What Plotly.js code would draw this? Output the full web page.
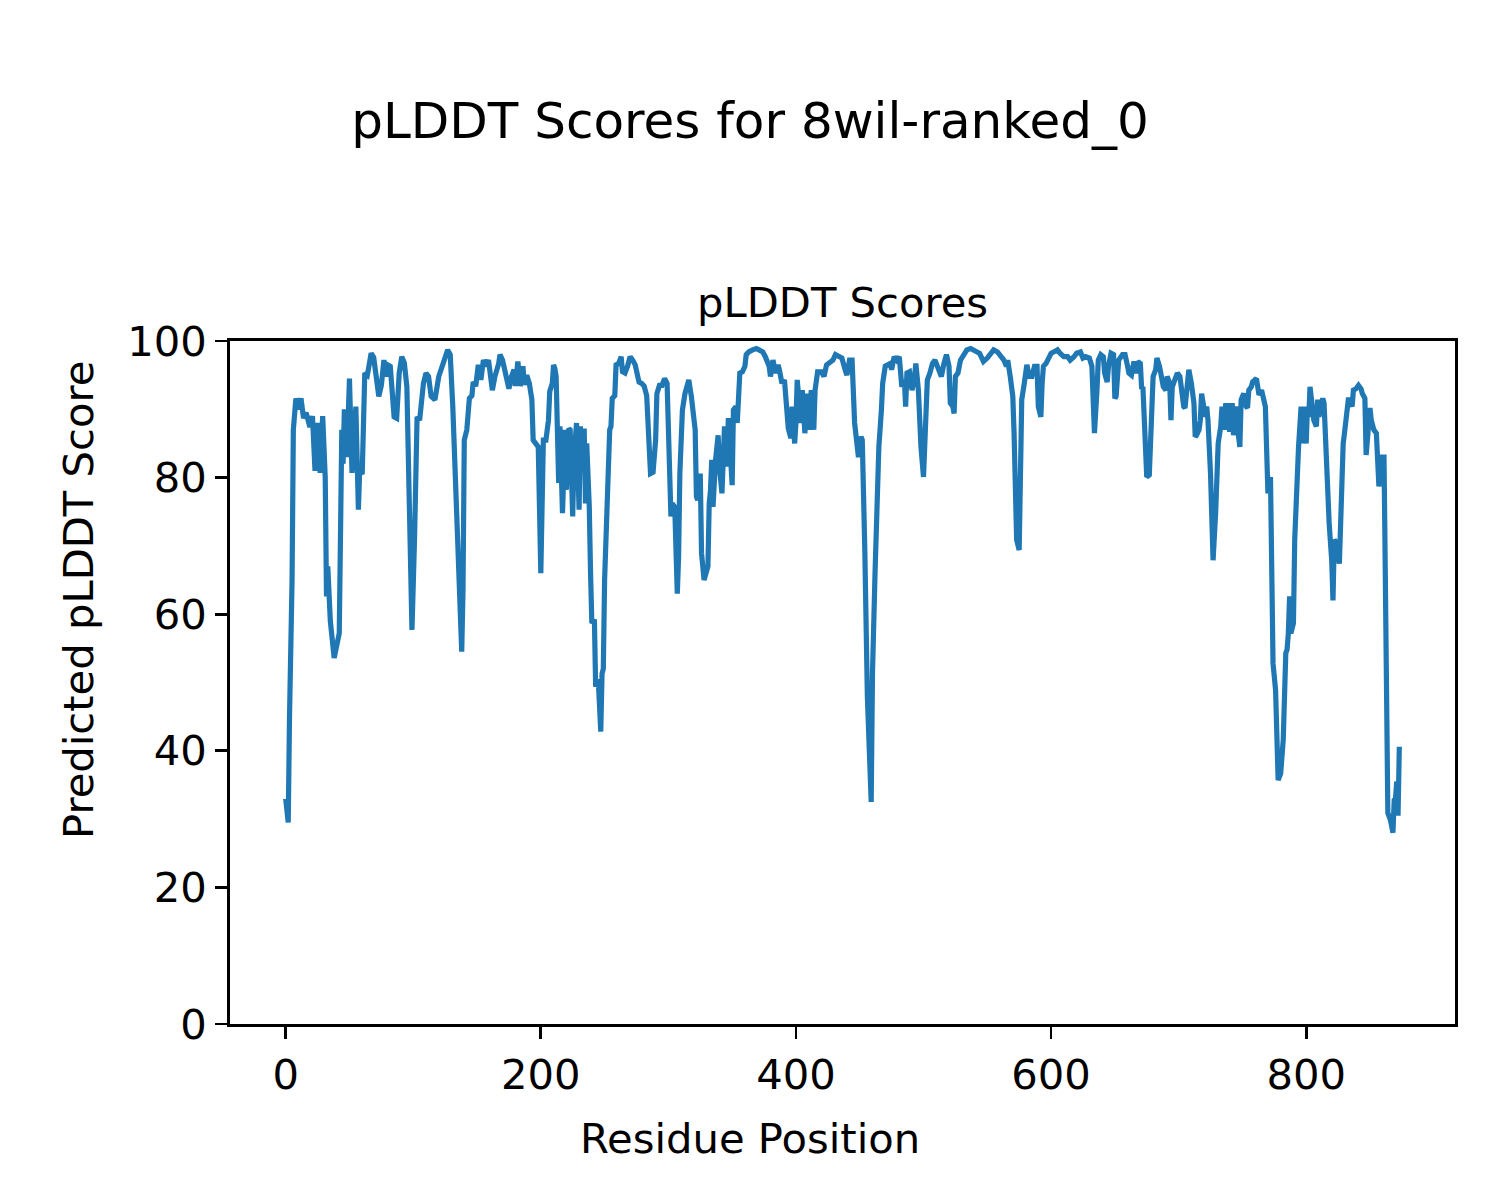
<!DOCTYPE html>
<html>
<head>
<meta charset="utf-8">
<script src="https://cdn.plot.ly/plotly-3.0.1.min.js"></script>
<style>
html, body { margin: 0; padding: 0; background: #fff; }
#chart { width: 1500px; height: 1200px; }
</style>
</head>
<body>
<div id="chart"></div>
<script>
const residue = [
  0,2,3,4,5,6,8,10,12,14,16,19,21,23,25,27,29,31,32,33,35,38,42,44,45,46,48,50,51,52,55,57,58,60,62,64,65,67,69,71,73,75,77,79,80,82,83,85,87,89,91,93,95,97,99,101,103,105,108,110,112,114,117,120,122,125,127,129,131,134,136,138,139,140,142,144,146,147,149,151,153,155,157,159,162,164,167,168,170,173,175,177,179,180,182,184,186,187,189,191,193,194,196,198,200,201,202,204,206,207,209,210,211,212,213,214,215,217,219,220,222,223,225,226,228,230,231,232,234,235,236,238,239,240,242,243,245,247,248,249,250,252,253,254,255,256,258,259,261,263,264,266,268,270,272,274,276,277,279,281,283,284,285,286,288,290,291,293,295,297,299,300,301,302,303,305,307,308,309,310,311,313,314,316,318,320,321,322,323,325,326,328,330,331,332,333,334,335,337,339,340,342,344,346,347,348,350,351,353,354,356,358,360,361,363,366,369,371,374,376,379,380,382,384,386,387,389,391,393,394,396,397,399,400,401,403,404,405,407,409,410,412,414,415,417,420,422,424,426,429,431,434,436,439,440,442,444,446,447,449,451,452,454,455,456,459,460,462,464,465,467,468,470,472,474,475,477,479,481,483,485,486,487,489,491,493,494,496,497,498,500,501,503,505,507,509,511,513,514,516,518,520,521,523,524,525,527,529,532,534,537,540,542,544,546,547,550,553,555,558,560,563,565,566,568,570,571,572,573,575,576,577,579,580,581,583,585,587,589,590,592,593,594,596,598,600,602,605,607,610,613,615,618,620,623,625,627,630,632,633,634,636,637,639,641,642,644,645,647,649,650,651,653,656,658,660,661,663,665,667,668,670,671,672,674,675,677,679,680,682,683,685,686,688,690,691,693,694,695,697,699,701,702,704,705,707,708,710,712,713,714,716,717,718,720,721,722,723,725,726,727,729,730,731,733,734,735,737,738,739,740,742,743,745,747,748,749,751,753,754,755,757,758,760,761,763,765,768,769,770,772,773,774,776,777,778,780,782,784,785,786,787,788,790,791,793,794,796,797,798,800,801,802,803,805,806,808,809,810,812,813,814,816,817,818,820,821,822,824,826,828,829,830,832,833,834,836,837,839,841,843,844,846,847,849,850,851,853,855,856,857,859,861,862,863,864,866,867,868,869,870,871,872,873
];
const plddt = [
  33,29.5,45,55,65,87,91.6,90,91.6,88.7,89.5,87.4,89,81,88,80.7,89,80,62.6,67,59,53.6,57.2,87,82,90,83,94.5,82.7,80.7,90.4,75.3,81,80.5,95.3,95,96,98.2,97.6,94.8,91.9,93.5,97.2,94.8,96.5,96.3,93.3,88.9,88.7,95.3,97.7,96.8,93.3,78.2,57.7,70.9,88.9,88.4,93.8,95.3,94.8,91.9,91.4,94.8,96,98,98.7,98,90.4,75,62,54.5,63.5,85.5,87,91.6,92,94,93.4,96.5,94.3,97.2,96.3,97.2,92.8,94.8,96.7,98,97.2,94.3,93,94.8,95.8,93.4,97,93.4,96.3,93.6,95,93.8,91.4,85.5,85,84.5,66,74.8,85.5,85.5,88.4,92.6,93.8,96.5,96,94.8,80,79.2,87.5,74.8,87,78.2,87.2,87,74.3,83,88,75.3,87.5,81,87.2,76.2,85,75.7,66,58.7,59.2,49.4,50.5,42.8,51.3,52,65,76.7,77.9,87,87.5,91.6,92,96.5,96.7,97.7,95.5,95.3,96.3,97.7,97.2,96.5,94.8,94,93.8,93.4,92,88.9,85,80.6,80.8,85.5,92.3,93.5,93.5,94.5,93.8,87.5,80.6,74.3,76.2,75.7,63,68.3,80.6,88.9,89.9,92.3,92.8,94.3,91.9,88.9,87,77.2,76.7,80.6,68.9,65,66,67,76.2,78.1,82.6,75.7,82.6,86.2,81.6,77.7,87.5,81.6,88.7,85,78.9,89.9,90.4,88,95.3,95.5,96.3,98,98.4,98.7,98.9,98.7,98.4,97.7,96.3,94.8,97.2,95.3,96.5,95.8,93.8,94.3,88,87.2,85.8,90.4,85,88,94.3,90.4,88,92.8,86.5,92.3,87,92.8,87,92.8,95.5,95.5,94.8,96.5,96.7,97.2,98,97.7,97.5,95.5,95,97.2,97.2,88,85.5,83,86,85.5,69.4,48.9,47.9,32.5,51.3,66,84,84.5,89.9,93.8,96.3,96.5,96.7,95.8,97.7,97.2,97.7,93.3,94.3,90.4,95.3,95.5,92.8,94.8,96.7,92.8,85.5,84.5,80.1,84.5,94.3,95.3,96.7,97.2,96.3,95.3,94.8,96.7,98,96.3,90.9,90.4,89.4,94.8,95.3,97.2,98.2,98.7,98.9,98.7,98.4,98.2,97.5,97,97.5,98.2,98.7,98.4,98,97.2,96.3,97.2,94.8,91.9,86.5,80.6,70.9,69.4,80.6,91.4,93.8,95.8,96.5,94.8,94.8,96.3,96.3,90.4,88.9,93.8,96.3,96.7,97.7,98.2,98.4,98.7,98.2,97.7,97.7,97.2,97.7,98.2,98.4,97.5,97.7,97.5,96.3,92.8,86.5,92.8,97.2,98,97.7,95.3,94,96.3,98.2,98,91.6,91.9,97.2,98,98,96.3,95.3,95,97,95.3,97,96.7,93,93.3,80.1,80.1,80.4,89.9,94.8,95.8,97.5,96.3,94.8,93.3,92.8,94.8,93.8,88.4,93.3,94.3,95.3,94.8,92.8,90.4,90.2,94.8,95.8,93.8,90.9,86,86.2,87,88.4,92.3,88.9,88.9,90.4,88.4,80.6,73.3,67.9,74.8,83,85,87.5,90.4,87,90.9,87,90.9,86.7,90.9,86.2,90.4,86,84.5,91.4,92.3,90.4,90.2,92.8,93.3,94,94.3,94.5,92.1,92.8,90.4,85.5,77.7,80.1,69.9,52.8,48.9,41.6,35.7,36.7,41.6,54.3,54.8,57.2,62.6,57.2,58.7,70.9,84,84.5,90.4,85,90.4,85,90.4,88.9,93.3,89.9,88.4,87.5,91.4,88.9,91.4,91.6,90.9,80.6,79.7,73.3,67.9,62,70.9,70.4,67.4,84,85,86.5,89.9,91.4,91.4,90.4,92.8,93,93.5,93,92.3,91.6,83.3,88.4,90.2,88.4,87,86.5,78.7,78.7,83,83,66,46.5,30.9,29.9,28.4,28,32.8,33,35.5,30.5,40.6
];
const xTicks = [0, 200, 400, 600, 800];
const yTicks = [0, 20, 40, 60, 80, 100];

const FONT = '"DejaVu Sans", "Liberation Sans", sans-serif';

const trace = {
  x: residue,
  y: plddt,
  type: 'scatter',
  mode: 'lines',
  line: { color: '#1f77b4', width: 5.2 },
  hoverinfo: 'x+y'
};

const axisCommon = {
  showgrid: false,
  zeroline: false,
  showline: true,
  mirror: true,
  linecolor: '#000',
  linewidth: 2.8,
  ticks: 'outside',
  ticklen: 12,
  tickwidth: 2.8,
  tickcolor: '#000',
  tickfont: { family: FONT, size: 41.7, color: '#000' }
};

const layout = {
  width: 1500,
  height: 1200,
  paper_bgcolor: '#fff',
  plot_bgcolor: '#fff',
  showlegend: false,
  margin: { l: 230, r: 45, t: 341, b: 176, pad: 0 },
  title: {
    text: 'pLDDT Scores for 8wil-ranked_0',
    font: { family: FONT, size: 50, color: '#000' },
    x: 0.5, xref: 'container', xanchor: 'center',
    y: 0.9, yref: 'container', yanchor: 'middle'
  },
  xaxis: Object.assign({}, axisCommon, {
    range: [-43.65, 916.65],
    tickmode: 'array',
    tickvals: xTicks,
    ticktext: xTicks.map(String)
  }),
  yaxis: Object.assign({}, axisCommon, {
    range: [0, 100],
    tickmode: 'array',
    tickvals: yTicks,
    ticktext: yTicks.map(String)
  }),
  annotations: [
    {
      text: 'pLDDT Scores',
      xref: 'paper', yref: 'paper', x: 0.5, y: 1,
      xanchor: 'center', yanchor: 'bottom', yshift: 12,
      showarrow: false,
      font: { family: FONT, size: 41.7, color: '#000' }
    },
    {
      text: 'Residue Position',
      xref: 'paper', yref: 'paper', x: (750 - 230) / 1225, y: (1024 - 1138) / 683,
      xanchor: 'center', yanchor: 'middle',
      showarrow: false,
      font: { family: FONT, size: 41.7, color: '#000' }
    },
    {
      text: 'Predicted pLDDT Score',
      xref: 'paper', yref: 'paper', x: (78 - 230) / 1225, y: (1024 - 600) / 683,
      xanchor: 'center', yanchor: 'middle', textangle: -90,
      showarrow: false,
      font: { family: FONT, size: 41.7, color: '#000' }
    }
  ]
};

Plotly.newPlot('chart', [trace], layout, { displayModeBar: false, staticPlot: true });
</script>
</body>
</html>
